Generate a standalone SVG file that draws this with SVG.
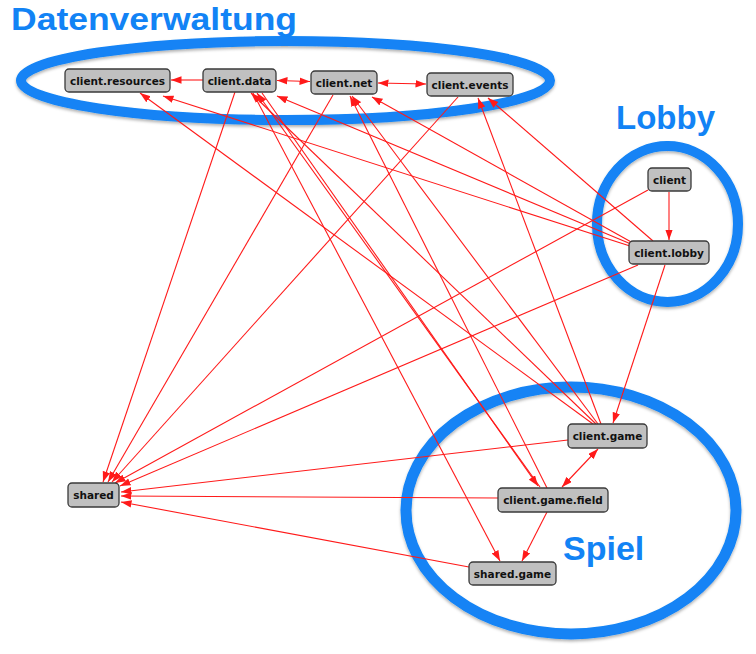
<svg xmlns="http://www.w3.org/2000/svg" width="756" height="654" viewBox="0 0 756 654">
<defs>
<style>
.grp{fill:none;stroke:#1283f5}
.glabel{font-family:"Liberation Sans",Arial,sans-serif;font-weight:bold;fill:#1283f5}
.node rect{fill:#c0c0c0;stroke:#3a3a3a;stroke-width:1.3}
.node text{font-family:"DejaVu Sans",sans-serif;font-weight:bold;font-size:10.5px;fill:#111;text-anchor:middle}
.edges line{stroke:#ff1a1a;stroke-width:1.1;marker-end:url(#arr)}
.edges line.bi{marker-start:url(#arr)}
</style>
<marker id="arr" markerUnits="userSpaceOnUse" markerWidth="11" markerHeight="8" refX="10.5" refY="3.75" orient="auto-start-reverse">
<path d="M0,0 L10.5,3.75 L0,7.5 z" fill="#ff1a1a"/>
</marker>
<filter id="sh" x="-10%" y="-10%" width="120%" height="130%">
<feDropShadow dx="0" dy="2" stdDeviation="1.5" flood-color="#000" flood-opacity="0.3"/>
</filter>
</defs>
<rect width="756" height="654" fill="#fff"/>

<g id="groups" filter="url(#sh)">
<ellipse class="grp" cx="285.5" cy="80.5" rx="264.5" ry="39.5" stroke-width="10"/>
<ellipse class="grp" cx="667.5" cy="224" rx="70.5" ry="78" stroke-width="10"/>
<ellipse class="grp" cx="571" cy="510.5" rx="165" ry="123.5" stroke-width="11"/>
</g>
<g id="group-labels">
<text class="glabel" x="11" y="30" font-size="32" textLength="286" lengthAdjust="spacingAndGlyphs">Datenverwaltung</text>
<text class="glabel" x="616" y="129" font-size="33">Lobby</text>
<text class="glabel" x="563" y="560" font-size="34">Spiel</text>
</g>

<g id="connectors" class="edges">
<line x1="203" y1="80" x2="171" y2="80"/>
<line class="bi" x1="277" y1="80.5" x2="310" y2="81.5"/>
<line class="bi" x1="378" y1="83" x2="426" y2="84"/>
<line x1="235" y1="92" x2="103" y2="482"/>
<line x1="333" y1="95" x2="108" y2="482"/>
<line x1="458" y1="97" x2="112" y2="482"/>
<line x1="669" y1="192" x2="669" y2="240"/>
<line x1="648" y1="190" x2="115" y2="483"/>
<line x1="630" y1="246" x2="163" y2="96"/>
<line x1="631" y1="244" x2="277" y2="96"/>
<line x1="633" y1="243" x2="372" y2="97"/>
<line x1="653" y1="241" x2="488" y2="98"/>
<line x1="638" y1="265" x2="120" y2="486"/>
<line x1="665" y1="265" x2="613" y2="423"/>
<line x1="593" y1="424" x2="140" y2="93"/>
<line x1="596" y1="424" x2="251" y2="93"/>
<line x1="598" y1="424" x2="352" y2="96"/>
<line x1="601" y1="424" x2="478" y2="98"/>
<line x1="568" y1="440" x2="121" y2="492"/>
<line class="bi" x1="598" y1="449" x2="562" y2="487"/>
<line x1="540" y1="487" x2="257" y2="93"/>
<line x1="262" y1="93" x2="538" y2="486"/>
<line x1="547" y1="488" x2="350" y2="96"/>
<line x1="498" y1="498" x2="121" y2="496"/>
<line x1="547" y1="512" x2="522" y2="561"/>
<line x1="469" y1="567" x2="121" y2="502"/>
<line x1="253" y1="93" x2="500" y2="561"/>
</g>

<g id="n-client-resources" class="node"><rect x="65" y="69" width="105" height="23" rx="4"/><text x="117.5" y="84.5">client.resources</text></g>
<g id="n-client-data" class="node"><rect x="203" y="69" width="73" height="23" rx="4"/><text x="239.5" y="84.5">client.data</text></g>
<g id="n-client-net" class="node"><rect x="311" y="71" width="66" height="23" rx="4"/><text x="344" y="86.5">client.net</text></g>
<g id="n-client-events" class="node"><rect x="427" y="73" width="86" height="23" rx="4"/><text x="470" y="88.5">client.events</text></g>
<g id="n-client" class="node"><rect x="648" y="168" width="43" height="23" rx="4"/><text x="669.5" y="183.5">client</text></g>
<g id="n-client-lobby" class="node"><rect x="629" y="241" width="80" height="23" rx="4"/><text x="669" y="256.5">client.lobby</text></g>
<g id="n-client-game" class="node"><rect x="568" y="424" width="79" height="24" rx="4"/><text x="607.5" y="440">client.game</text></g>
<g id="n-client-game-field" class="node"><rect x="498" y="488" width="110" height="24" rx="4"/><text x="553" y="504">client.game.field</text></g>
<g id="n-shared-game" class="node"><rect x="469" y="562" width="87" height="23" rx="4"/><text x="512.5" y="577.5">shared.game</text></g>
<g id="n-shared" class="node"><rect x="68" y="483" width="51" height="24" rx="4"/><text x="93.5" y="499">shared</text></g>
</svg>
